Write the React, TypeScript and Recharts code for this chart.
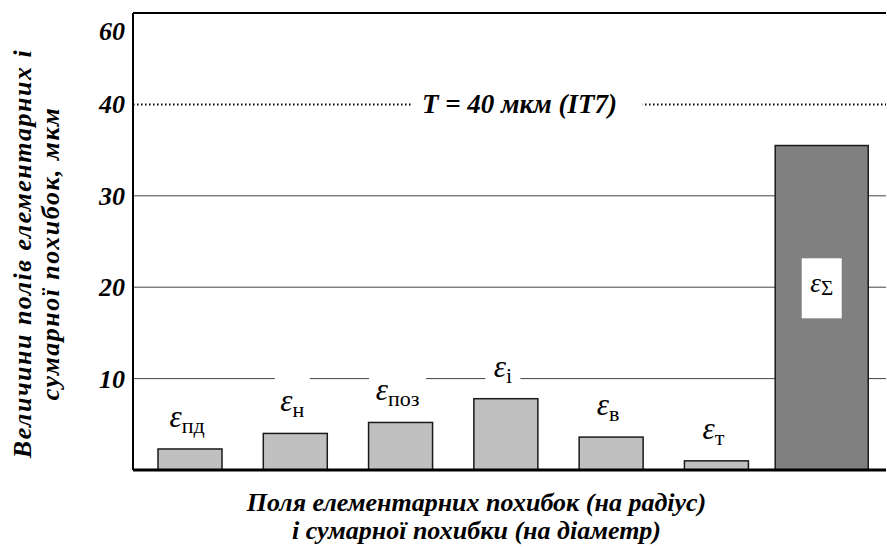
import { BarChart, Bar, XAxis, YAxis, CartesianGrid, ReferenceLine, LabelList, Label } from "recharts";

// subscripts of the error fields (ε_...) and their values, мкм
const categories = ["пд", "н", "поз", "і", "в", "т", "Σ"];
const fieldValues = [2.3, 4.0, 5.2, 7.8, 3.6, 1.0, 35.5];

const yTicks = [10, 20, 30, 40, 50];
const yTickLabels = ["10", "20", "30", "40", "60"];
const gridValues = [10, 20, 30];

const toleranceValue = 40;
const toleranceLabel = "T = 40 мкм (IT7)";

const yTitle = ["Величини полів елементарних і", "сумарної похибок, мкм"];
const xTitle = ["Поля елементарних похибок (на радіус)", "і сумарної похибки (на діаметр)"];

const data = categories.map((c, i) => ({ name: c, value: fieldValues[i] }));

const SERIF = '"Times New Roman", "Liberation Serif", serif';
const TOTAL = categories[categories.length - 1];

const bold = { fontWeight: "bold", fontStyle: "italic" };

const SText = (props: any) => {
    const { children, style, ...rest } = props;
    return (
        <text {...rest} fill="#000" fontFamily={SERIF} style={{ fontFamily: SERIF, ...style }}>
            {children}
        </text>
    );
};

const YTick = (props: any) => {
    const { x, y, payload } = props;
    const i = yTicks.indexOf(payload.value);
    // top label sits a bit below the frame in the original
    const shift = i === yTicks.length - 1 ? 18 : 0;
    return (
        <SText x={x} y={y + shift} dy={9} textAnchor="end" style={{ ...bold, fontSize: 26 }}>
            {yTickLabels[i]}
        </SText>
    );
};

const BarShape = (props: any) => {
    const { x, y, width, height, payload } = props;
    const total = payload && payload.name === TOTAL;
    const w = total ? 93 : width;
    const cx = x + width / 2;
    return (
        <rect x={cx - w / 2} y={y} width={w} height={height}
            fill={total ? "#808080" : "#c0c0c0"} stroke="#1a1a1a" strokeWidth={1.5} />
    );
};

const EpsLabel = (props: any) => {
    const { x, y, width, height, value } = props;
    const sub = String(value);
    if (sub === TOTAL) {
        const cx = x + width / 2;
        const cy = y + height * 0.44;
        return (
            <g>
                <rect x={cx - 20} y={cy - 30} width={40} height={60} fill="#fff" />
                <SText x={cx} y={cy + 4} textAnchor="middle">
                    <tspan style={{ fontStyle: "italic", fontSize: 27 }}>ε</tspan>
                    <tspan style={{ fontSize: 21 }} dy={3}>{sub}</tspan>
                </SText>
            </g>
        );
    }
    const cx = x + width / 2 - 3;
    const base = y - 22;
    const w = 18 + sub.length * 11;
    return (
        <g>
            <rect x={cx - w / 2 - 3} y={base - 34} width={w + 6} height={42} fill="#fff" />
            <SText x={cx} y={base} textAnchor="middle">
                <tspan style={{ fontStyle: "italic", fontSize: 31 }}>ε</tspan>
                <tspan style={{ fontSize: 22 }} dy={6}>{sub}</tspan>
            </SText>
        </g>
    );
};

const ToleranceLabel = (props: any) => {
    const vb = props.viewBox || { x: 133, y: 103, width: 753 };
    const cx = vb.x + vb.width / 2 + 10;
    return (
        <g>
            <rect x={cx - 107} y={vb.y - 14} width={230} height={28} fill="#fff" />
            <SText x={cx} y={vb.y + 9} textAnchor="middle" style={{ ...bold, fontSize: 27 }}>
                {toleranceLabel}
            </SText>
        </g>
    );
};

const YTitle = (props: any) => {
    const vb = props.viewBox || { y: 13, height: 457 };
    const cy = vb.y + vb.height / 2 + 12;
    const st = { ...bold, fontSize: 26, letterSpacing: 1.5 };
    return (
        <g transform={`translate(0, ${cy}) rotate(-90)`}>
            <SText x={0} y={31} textAnchor="middle" style={st}>{yTitle[0]}</SText>
            <SText x={0} y={59} textAnchor="middle" style={st}>{yTitle[1]}</SText>
        </g>
    );
};

const XTitle = (props: any) => {
    const vb = props.viewBox || { x: 133, y: 470, width: 753 };
    const cx = vb.x + vb.width / 2 - 33;
    const st = { ...bold, fontSize: 26 };
    return (
        <g>
            <SText x={cx} y={vb.y + 41} textAnchor="middle" style={st}>{xTitle[0]}</SText>
            <SText x={cx} y={vb.y + 69} textAnchor="middle" style={st}>{xTitle[1]}</SText>
        </g>
    );
};

const App = () => {
    return (
        <div style={{ position: "absolute", left: 0, top: 0, background: "#fff" }}>
            <BarChart width={887} height={547} data={data} style={{ fontFamily: SERIF }}
                margin={{ top: 13, right: 1, left: 0, bottom: 0 }}>
                <CartesianGrid vertical={false} horizontalValues={gridValues} stroke="#444" strokeWidth={1} />
                <XAxis dataKey="name" tick={false} tickLine={false} height={77}
                    padding={{ left: 4, right: 12 }}
                    axisLine={{ stroke: "#000", strokeWidth: 3 }}>
                    <Label content={XTitle} />
                </XAxis>
                <YAxis type="number" domain={[0, yTicks[yTicks.length - 1]]} ticks={yTicks} interval={0}
                    width={133} tickLine={false} tick={YTick} tickMargin={2}
                    axisLine={{ stroke: "#000", strokeWidth: 2 }}>
                    <Label content={YTitle} />
                </YAxis>
                <ReferenceLine y={yTicks[yTicks.length - 1]} stroke="#000" strokeWidth={2} />
                <ReferenceLine y={toleranceValue} stroke="#000" strokeWidth={2} strokeDasharray="1.5 2.5"
                    label={<ToleranceLabel />} />
                <Bar dataKey="value" barSize={64} shape={BarShape} isAnimationActive={false}>
                    <LabelList dataKey="name" content={EpsLabel} />
                </Bar>
            </BarChart>
        </div>
    );
};

export default App;
